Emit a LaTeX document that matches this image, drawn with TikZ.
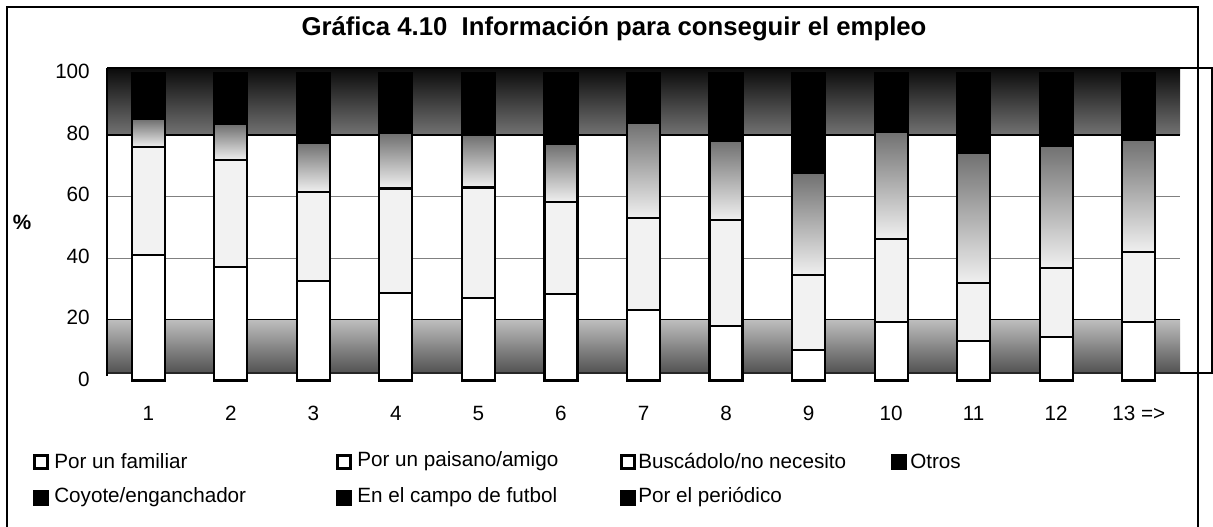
\documentclass[tikz,border=0pt]{standalone}
\usepackage{fontspec}
\setmainfont{Liberation Sans}
\begin{document}
\begin{tikzpicture}[x=0.75pt,y=-0.75pt,
  lbl/.style={font=\fontsize{15.5}{18}\selectfont, inner sep=0pt},
  ttl/.style={font=\fontsize{19.3}{22}\selectfont\bfseries, inner sep=0pt},
  barline/.style={line width=1.6pt},
  sepline/.style={line width=1.8pt},
  frameline/.style={line width=1.4pt},
  grid/.style={line width=0.6pt, gray},
  keyopen/.style={draw=black, line width=2.2pt, fill=white, minimum size=10pt, inner sep=0pt},
  keyfull/.style={fill=black, minimum size=11.5pt, inner sep=0pt}]
\useasboundingbox (0,0) rectangle (1213,527);
\fill[white] (0,0) rectangle (1213,527);
% background bands
\shade[top color=black!96, bottom color=black!55] (107,68) rectangle (1180,135);
\shade[top color=black!25, bottom color=black!68] (107,319) rectangle (1180,373);
\draw[line width=1.2pt, black!85] (107,373) -- (1180,373);
% gridlines
\draw[line width=0.8pt] (107,135) -- (1180,135);
\draw[grid] (107,196.5) -- (1180,196.5);
\draw[grid] (107,258) -- (1180,258);
\draw[line width=0.7pt] (107,319) -- (1180,319);
% bars
\foreach \i/\f/\p/\b in {1/40.8/75.9/84.7, 2/36.9/71.7/83, 3/32.4/61.3/77, 4/28.4/62.5/80,
  5/26.8/62.8/79.5, 6/28.1/58.0/76.5, 7/22.9/52.8/83.5, 8/17.7/52.2/77.5, 9/9.9/34.3/67,
  10/19.0/46.0/80.5, 11/12.8/31.7/73.5, 12/14.1/36.6/76, 13/19.0/41.8/78} {
  \pgfmathsetmacro\xc{107+(\i-0.5)*82.54}
  \pgfmathsetmacro\xl{\xc-16.5}
  \pgfmathsetmacro\xr{\xc+16.5}
  \pgfmathsetmacro\yf{380.5-3.075*\f}
  \pgfmathsetmacro\yp{380.5-3.075*\p}
  \pgfmathsetmacro\yb{380.5-3.075*\b}
  \fill[white] (\xl,380.5) rectangle (\xr,\yf);
  \fill[gray!10] (\xl,\yf) rectangle (\xr,\yp);
  \shade[bottom color=gray!12, middle color=gray!24, top color=black!55] (\xl,\yp) rectangle (\xr,\yb);
  \fill[black] (\xl,\yb) rectangle (\xr,73);
  \draw[sepline] (\xl,\yf) -- (\xr,\yf);
  \draw[sepline] (\xl,\yp) -- (\xr,\yp);
  \draw[barline] (\xl,380.5) rectangle (\xr,73);
  \node[lbl] (x\i) at (\xc,413) {\ifnum\i=13 13 =>\else\i\fi};
}
% axes and frames
\draw[line width=1.4pt] (107,68) -- (107,376);
\draw[line width=1pt] (107,68) -- (1212,68) -- (1212,373) -- (1180,373);
\draw[frameline] (7,527) -- (7,7) -- (1198,7) -- (1198,527);
% y labels
\foreach \v in {0,20,40,60,80,100} {
  \node[lbl, anchor=east] (y\v) at (90,{379-3.075*\v}) {\v};
}
\node[lbl, font=\fontsize{15.5}{18}\selectfont\bfseries] (pct) at (22,222) {\%};
% title
\node[ttl] (title) at (614,29) {Gráfica 4.10\ \ Información para conseguir el empleo};
% legend
\node[keyopen] (k1) at (41,462) {};
\node[lbl, anchor=west] (t1) at (54,461) {Por un familiar};
\node[keyopen] (k2) at (344,462) {};
\node[lbl, anchor=west] (t2) at (357,461) {Por un paisano/amigo};
\node[keyopen] (k3) at (628,462) {};
\node[lbl, anchor=west] (t3) at (638,461) {Buscádolo/no necesito};
\node[keyfull] (k4) at (899,462) {};
\node[lbl, anchor=west] (t4) at (910,461) {Otros};
\node[keyfull] (k5) at (41,498) {};
\node[lbl, anchor=west] (t5) at (54,497) {Coyote/enganchador};
\node[keyfull] (k6) at (344,498) {};
\node[lbl, anchor=west] (t6) at (357,497) {En el campo de futbol};
\node[keyfull] (k7) at (628,498) {};
\node[lbl, anchor=west] (t7) at (638,497) {Por el periódico};
\end{tikzpicture}
\end{document}
